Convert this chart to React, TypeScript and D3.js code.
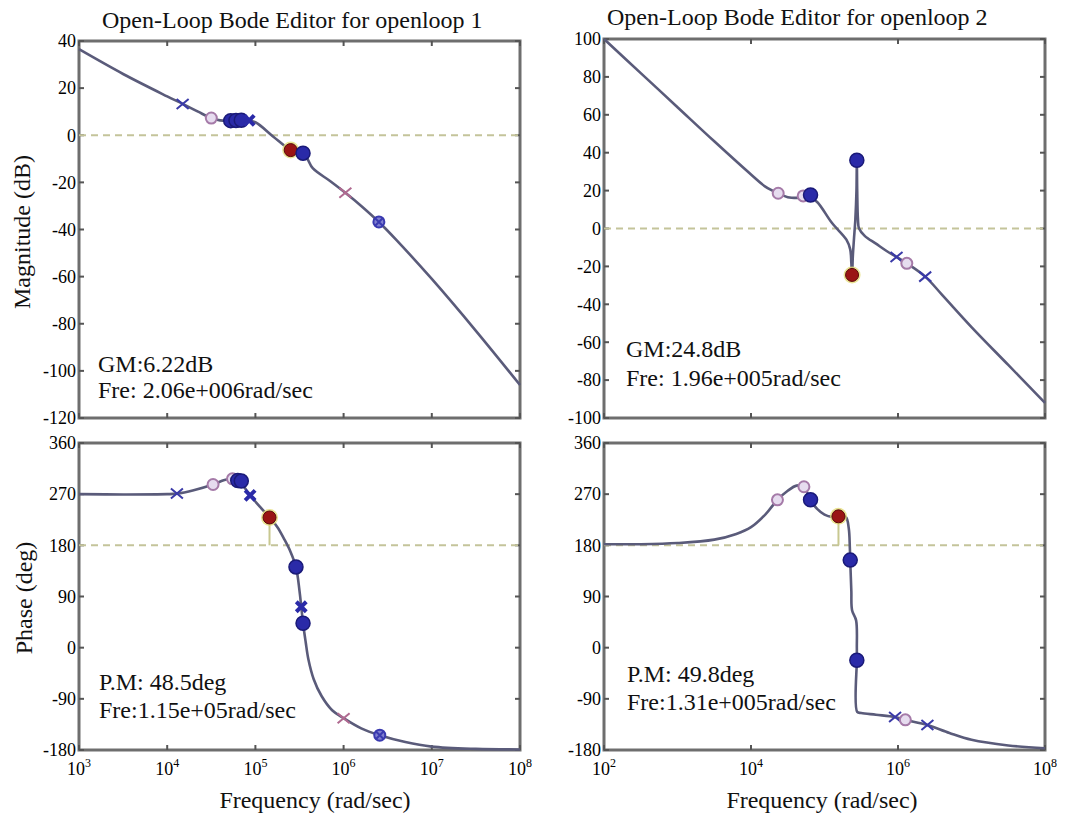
import React from "react";
import * as d3 from "d3";

// frequencies are stored as log10(rad/sec)
const mag1W = [3.0, 3.5, 4.0, 4.175, 4.35, 4.5, 4.6, 4.75, 4.9, 5.0, 5.2, 5.4, 5.5, 5.58, 5.65, 5.85, 6.02, 6.2, 6.4, 6.6, 7.0, 7.5, 8.0];
const mag1Db = [36.5, 26, 16.5, 13.3, 10, 7.3, 6.3, 6.2, 6.4, 5.5, -0.5, -6.3, -7.5, -9.5, -14, -19.5, -24.4, -30, -36.8, -44.5, -61, -83, -106];
const mag1MarkW = [4.175, 4.5, 4.72, 4.78, 4.84, 4.93, 5.4, 5.54, 6.02, 6.4];
const mag1MarkV = [13.3, 7.3, 6.2, 6.3, 6.4, 6.3, -6.3, -7.6, -24.4, -36.8];
const mag1MarkK = ["x", "o", "dot", "dot", "dot", "bow", "red", "dot", "xp", "ox"];

const ph1W = [3.0, 3.5, 4.0, 4.11, 4.3, 4.52, 4.65, 4.74, 4.82, 4.94, 5.05, 5.16, 5.25, 5.33, 5.4, 5.46, 5.5, 5.52, 5.54, 5.57, 5.6, 5.66, 5.75, 5.87, 6.0, 6.2, 6.41, 6.7, 7.0, 7.5, 8.0];
const ph1Deg = [270, 269.5, 270, 271, 277, 287, 295, 297, 292, 268, 248, 229, 212, 190, 168, 142, 100, 72, 43, 10, -20, -55, -85, -110, -124, -142, -154, -166, -174, -178, -179];
const ph1MarkW = [4.11, 4.52, 4.74, 4.8, 4.84, 4.94, 5.16, 5.46, 5.52, 5.54, 6.0, 6.41];
const ph1MarkV = [271, 287, 297, 294, 293, 268, 229, 142, 72, 43, -124, -154];
const ph1MarkK = ["x", "o", "o", "dot", "dot", "bow", "red", "dot", "bow", "dot", "xp", "ox"];

const mag2W = [2.0, 2.5, 3.0, 3.5, 4.0, 4.2, 4.37, 4.5, 4.7, 4.8, 4.9, 5.1, 5.3, 5.35, 5.365, 5.375, 5.385, 5.4, 5.42, 5.435, 5.44, 5.445, 5.455, 5.47, 5.55, 5.7, 5.85, 5.98, 6.12, 6.37, 6.6, 7.0, 7.5, 8.0];
const mag2Db = [100, 82, 64, 46, 28.5, 22, 18.6, 16.5, 16.2, 16.5, 14, 3, -6, -11, -18, -24.5, -15, -6, 5, 20, 36, 20, 5, 0, -4, -8, -12, -15, -18.4, -25.4, -35, -52, -72, -92];
const mag2MarkW = [4.37, 4.71, 4.81, 5.375, 5.44, 5.98, 6.12, 6.37];
const mag2MarkV = [18.6, 17.2, 17.7, -24.5, 36, -15, -18.4, -25.4];
const mag2MarkK = ["o", "o", "dot", "red", "dot", "x", "o", "x"];

const ph2W = [2.0, 2.5, 3.0, 3.5, 3.8, 4.0, 4.2, 4.36, 4.5, 4.62, 4.72, 4.8, 4.9, 5.0, 5.1, 5.19, 5.29, 5.33, 5.345, 5.35, 5.365, 5.375, 5.43, 5.44, 5.44, 5.445, 5.5, 5.7, 5.96, 6.1, 6.4, 6.7, 7.0, 7.5, 8.0];
const ph2Deg = [182, 182, 184, 190, 200, 212, 235, 260, 276, 285, 283, 262, 244, 234, 230, 231, 230, 210, 175, 154, 100, 66, 48, 0, -22, -113, -115, -118, -122, -127, -136, -150, -162, -172, -177];
const ph2MarkW = [4.36, 4.72, 4.81, 5.19, 5.35, 5.44, 5.96, 6.1, 6.4];
const ph2MarkV = [260, 283, 260, 231, 154, -22, -122, -127, -136];
const ph2MarkK = ["o", "o", "dot", "red", "dot", "dot", "x", "o", "x"];

const magTicks1 = [40, 20, 0, -20, -40, -60, -80, -100, -120];
const magTicks2 = [100, 80, 60, 40, 20, 0, -20, -40, -60, -80, -100];
const phTicks = [360, 270, 180, 90, 0, -90, -180];
const freqExp1 = [3, 4, 5, 6, 7, 8];
const freqExp2 = [2, 4, 6, 8];

const FONT = "'Liberation Serif', 'Times New Roman', serif";
const LINE = "#5a5b7a";
const BLUE = "#2a2aa8";

function Marker({ cx, cy, k }: { cx: number; cy: number; k: string }) {
  if (k === "dot")
    return <circle cx={cx} cy={cy} r={7} fill={BLUE} stroke="#1a1a78" strokeWidth={1.5} />;
  if (k === "red")
    return (
      <g>
        <circle cx={cx} cy={cy} r={8.5} fill="#e4dc78" opacity={0.8} />
        <circle cx={cx} cy={cy} r={6.5} fill="#9a1414" stroke="#5a0a0a" strokeWidth={1} />
      </g>
    );
  if (k === "o")
    return <circle cx={cx} cy={cy} r={5.5} fill="#e6dcef" stroke="#a57aa8" strokeWidth={2} />;
  if (k === "ox")
    return (
      <g stroke="#3a3ab0" strokeWidth={2}>
        <circle cx={cx} cy={cy} r={5.5} fill="#8080d0" />
        <path d={`M${cx - 4},${cy - 4}L${cx + 4},${cy + 4}M${cx - 4},${cy + 4}L${cx + 4},${cy - 4}`} />
      </g>
    );
  if (k === "bow")
    return (
      <path
        d={`M${cx - 5},${cy - 5}L${cx + 5},${cy + 5}M${cx - 5},${cy + 5}L${cx + 5},${cy - 5}`}
        stroke={BLUE}
        strokeWidth={4}
      />
    );
  const col = k === "xp" ? "#b06a90" : "#3a3aa8";
  return (
    <path
      d={`M${cx - 6},${cy - 5}L${cx + 6},${cy + 5}M${cx - 6},${cy + 5}L${cx + 6},${cy - 5}`}
      stroke={col}
      strokeWidth={2}
    />
  );
}

type PanelProps = {
  x0: number; x1: number; y0: number; y1: number;
  wDom: [number, number]; vDom: [number, number];
  vTicks: number[]; wTicks: number[]; showX: boolean;
  w: number[]; v: number[];
  mw: number[]; mv: number[]; mk: string[];
  ref: number; pm?: number;
};

function Panel(p: PanelProps) {
  const x = d3.scaleLog().domain([10 ** p.wDom[0], 10 ** p.wDom[1]]).range([p.x0, p.x1]);
  const y = d3.scaleLinear().domain(p.vDom).range([p.y1, p.y0]);
  const line = d3
    .line<number>()
    .x((_, i) => x(10 ** p.w[i]))
    .y((d) => y(d))
    .curve(d3.curveCatmullRom.alpha(0.5));
  return (
    <g>
      <rect x={p.x0} y={p.y0} width={p.x1 - p.x0} height={p.y1 - p.y0} fill="#fff" stroke="#6e6e6e" strokeWidth={3} />
      {p.vTicks.map((t) => (
        <g key={t}>
          <line x1={p.x0} x2={p.x0 + 5} y1={y(t)} y2={y(t)} stroke="#555" strokeWidth={2} />
          <line x1={p.x1 - 5} x2={p.x1} y1={y(t)} y2={y(t)} stroke="#555" strokeWidth={2} />
          <text x={p.x0 - 3} y={y(t)} dy="0.35em" textAnchor="end" fontSize={18} fontFamily={FONT}>{t}</text>
        </g>
      ))}
      {p.wTicks.map((e) => (
        <g key={e}>
          <line x1={x(10 ** e)} x2={x(10 ** e)} y1={p.y0} y2={p.y0 + 5} stroke="#555" strokeWidth={2} />
          <line x1={x(10 ** e)} x2={x(10 ** e)} y1={p.y1 - 5} y2={p.y1} stroke="#555" strokeWidth={2} />
          {p.showX && (
            <text x={x(10 ** e)} y={p.y1 + 25} textAnchor="middle" fontSize={18} fontFamily={FONT}>
              10<tspan dy={-8} fontSize={12}>{e}</tspan>
            </text>
          )}
        </g>
      ))}
      <line x1={p.x0} x2={p.x1} y1={y(p.ref)} y2={y(p.ref)} stroke="#c4c49a" strokeWidth={2} strokeDasharray="7 5" />
      {p.pm !== undefined && (
        <line x1={x(10 ** p.pm)} x2={x(10 ** p.pm)} y1={y(p.ref)} y2={y(p.mv[p.mk.indexOf("red")])} stroke="#c8c890" strokeWidth={2} />
      )}
      <path d={line(p.v) || ""} fill="none" stroke={LINE} strokeWidth={2.6} />
      {p.mw.map((m, i) => (
        <Marker key={i} cx={x(10 ** m)} cy={y(p.mv[i])} k={p.mk[i]} />
      ))}
    </g>
  );
}

const txt = { fontFamily: FONT, fontSize: 24, fill: "#111" };

export default function App() {
  const L = { x0: 79, x1: 520 };
  const R = { x0: 604, x1: 1045 };
  const top = { y0: 41, y1: 418 };
  const bot = { y0: 443, y1: 750 };
  return (
    <svg width={1073} height={822} style={{ position: "absolute", left: 0, top: 0, background: "#fff" }}>
      <text x={102} y={28} {...txt}>Open-Loop Bode Editor for openloop 1</text>
      <text x={607} y={25} {...txt}>Open-Loop Bode Editor for openloop 2</text>

      <Panel {...L} {...top} wDom={[3, 8]} vDom={[-120, 40]} vTicks={magTicks1} wTicks={freqExp1} showX={false}
        w={mag1W} v={mag1Db} mw={mag1MarkW} mv={mag1MarkV} mk={mag1MarkK} ref={0} />
      <Panel {...L} {...bot} wDom={[3, 8]} vDom={[-180, 360]} vTicks={phTicks} wTicks={freqExp1} showX={true}
        w={ph1W} v={ph1Deg} mw={ph1MarkW} mv={ph1MarkV} mk={ph1MarkK} ref={180} pm={5.16} />
      <Panel {...R} {...top} y0={39} wDom={[2, 8]} vDom={[-100, 100]} vTicks={magTicks2} wTicks={freqExp2} showX={false}
        w={mag2W} v={mag2Db} mw={mag2MarkW} mv={mag2MarkV} mk={mag2MarkK} ref={0} />
      <Panel {...R} {...bot} wDom={[2, 8]} vDom={[-180, 360]} vTicks={phTicks} wTicks={freqExp2} showX={true}
        w={ph2W} v={ph2Deg} mw={ph2MarkW} mv={ph2MarkV} mk={ph2MarkK} ref={180} pm={5.19} />

      <text transform="translate(30,232) rotate(-90)" textAnchor="middle" {...txt}>Magnitude (dB)</text>
      <text transform="translate(32,598) rotate(-90)" textAnchor="middle" {...txt}>Phase (deg)</text>
      <text x={315} y={808} textAnchor="middle" {...txt}>Frequency (rad/sec)</text>
      <text x={822} y={808} textAnchor="middle" {...txt}>Frequency (rad/sec)</text>

      <text x={98} y={372} {...txt}>GM:6.22dB</text>
      <text x={98} y={398} {...txt}>Fre: 2.06e+006rad/sec</text>
      <text x={626} y={357} {...txt}>GM:24.8dB</text>
      <text x={626} y={386} {...txt}>Fre: 1.96e+005rad/sec</text>
      <text x={99} y={690} {...txt}>P.M: 48.5deg</text>
      <text x={99} y={718} {...txt}>Fre:1.15e+05rad/sec</text>
      <text x={627} y={682} {...txt}>P.M: 49.8deg</text>
      <text x={627} y={710} {...txt}>Fre:1.31e+005rad/sec</text>
    </svg>
  );
}
